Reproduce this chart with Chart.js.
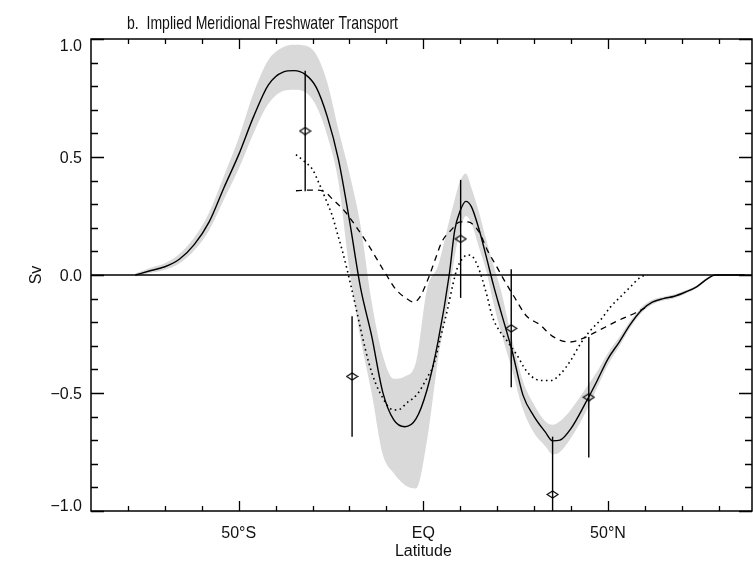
<!DOCTYPE html>
<html>
<head>
<meta charset="utf-8">
<script src="https://cdn.jsdelivr.net/npm/chart.js@4.4.1/dist/chart.umd.min.js"></script>
<style>
  html, body { margin: 0; padding: 0; background: #fff; overflow: hidden; }
  #wrap { width: 753px; height: 563px; }
  canvas { display: block; }
</style>
</head>
<body>
<div id="wrap"><canvas id="fw-chart" width="753" height="563"></canvas></div>
<script>
// ------------------------------------------------------------
//  b. Implied Meridional Freshwater Transport (Sv vs latitude)
// ------------------------------------------------------------

// Main estimate (solid) and its uncertainty band
const LAT_MAIN = [-78, -74, -70, -66, -62, -58, -54, -50, -46, -42, -38, -35, -32, -29, -26, -23, -20, -17, -14, -11,
  -8, -5, -2, 1, 4, 7, 8.5, 10, 11.5, 13, 15, 17, 19, 21, 24, 27, 30, 33, 35, 37, 40, 44, 47, 50, 53, 56, 59, 62,
  65, 68, 71, 74, 77, 79, 83, 87];
const SV_MAIN = [0, 0.018, 0.035, 0.068, 0.13, 0.225, 0.37, 0.51, 0.67, 0.805, 0.86, 0.866, 0.85, 0.795, 0.67, 0.49, 0.23, -0.055, -0.258, -0.496,
  -0.614, -0.643, -0.61, -0.486, -0.28, 0.0, 0.19, 0.273, 0.312, 0.29, 0.198, 0.08, -0.044, -0.155, -0.32, -0.51, -0.60, -0.665, -0.703, -0.70, -0.65, -0.54, -0.45, -0.355, -0.285, -0.21, -0.15, -0.115,
  -0.10, -0.09, -0.072, -0.05, -0.015, 0, 0, 0];
const SV_UPPER = [0.006, 0.03, 0.05, 0.09, 0.16, 0.265, 0.42, 0.58, 0.77, 0.91, 0.965, 0.976, 0.972, 0.934, 0.815, 0.617, 0.43, 0.21, -0.113, -0.34,
  -0.44, -0.43, -0.37, -0.06, 0.04, 0.23, 0.32, 0.40, 0.43, 0.37, 0.27, 0.15, 0.04, -0.065, -0.27, -0.45, -0.55, -0.62, -0.635, -0.62, -0.57, -0.48, -0.41, -0.33, -0.265, -0.195, -0.138, -0.105,
  -0.092, -0.082, -0.065, -0.044, -0.01, 0.003, 0.002, 0.002];
const SV_LOWER = [-0.004, 0.008, 0.022, 0.05, 0.105, 0.19, 0.32, 0.45, 0.60, 0.725, 0.78, 0.785, 0.775, 0.716, 0.59, 0.395, 0.02, -0.27, -0.50, -0.76,
  -0.84, -0.89, -0.905, -0.70, -0.355, -0.08, 0.08, 0.19, 0.25, 0.22, 0.12, 0.02, -0.12, -0.24, -0.40, -0.57, -0.67, -0.725, -0.76, -0.75, -0.69, -0.58, -0.48, -0.38, -0.305, -0.225, -0.162, -0.125,
  -0.108, -0.098, -0.079, -0.056, -0.02, -0.003, -0.002, -0.002];

// Dashed estimate
const LAT_DASH = [-34.5, -30, -27, -24.5, -21, -18, -15, -12.5, -10, -7.5, -4.5, -2.5, -1, 0, 1.7, 3.3, 5, 7.5, 10, 12,
  15, 17.5, 19.7, 22, 24.5, 28, 31.5, 35, 39.5, 43, 47.5, 52.5, 57.5, 60];
const SV_DASH = [0.357, 0.36, 0.355, 0.32, 0.265, 0.20, 0.13, 0.065, 0.0, -0.06, -0.10, -0.115, -0.095, -0.065, 0.0, 0.07, 0.14, 0.19, 0.225, 0.225,
  0.185, 0.10, 0.04, -0.025, -0.09, -0.175, -0.21, -0.26, -0.284, -0.27, -0.235, -0.195, -0.16, -0.14];

// Dotted estimate
const LAT_DOT = [-34.5, -32.3, -30, -28.3, -26.4, -24.6, -23.3, -22, -20.6, -18.3, -16.5, -14.7, -12.9, -11.1, -8.9, -7, -4.3, -1.6, 1.1, 2.9,
  4.7, 6.5, 8, 9.2, 10.6, 11.9, 13.3, 14.6, 16, 17.3, 18.7, 20.5, 22, 23.8, 25.4, 27.2, 29, 31.8, 34.5, 37.2,
  39.9, 42.6, 45.3, 48, 50.7, 53.4, 56.1, 58.4, 60];
const SV_DOT = [0.51, 0.482, 0.447, 0.39, 0.32, 0.248, 0.177, 0.106, 0.02, -0.135, -0.262, -0.376, -0.46, -0.518, -0.567, -0.572, -0.54, -0.504, -0.433, -0.376,
  -0.262, -0.149, -0.04, 0.03, 0.07, 0.085, 0.078, 0.043, -0.02, -0.092, -0.177, -0.234, -0.265, -0.305, -0.34, -0.39, -0.426, -0.447, -0.447, -0.418,
  -0.362, -0.29, -0.234, -0.19, -0.135, -0.092, -0.05, -0.014, 0.0];

// Direct estimates with error bars
const OBS_LAT = [-32, -19.3, 10.1, 23.8, 35, 44.8];
const OBS_SV  = [0.61, -0.43, 0.153, -0.226, -0.93, -0.518];
const OBS_ERR = [0.255, 0.255, 0.25, 0.25, 0.245, 0.255];

// Zero reference line
const ZERO_LAT = [-90, 90];
const ZERO_SV  = [0, 0];

// Axes
const X_MIN = -90, X_MAX = 89, Y_MIN = -1, Y_MAX = 1;
const X_TICKS       = [-50, 0, 50];
const X_TICK_LABELS = ['50°S', 'EQ', '50°N'];
const X_MINOR       = [-80, -70, -60, -40, -30, -20, -10, 10, 20, 30, 40, 60, 70, 80];
const Y_TICKS       = [-1, -0.5, 0, 0.5, 1];
const Y_TICK_LABELS = ['\u22121.0', '\u22120.5', '0.0', '0.5', '1.0'];
const Y_MINOR       = [-0.9, -0.8, -0.7, -0.6, -0.4, -0.3, -0.2, -0.1, 0.1, 0.2, 0.3, 0.4, 0.6, 0.7, 0.8, 0.9];

const TITLE   = 'b.  Implied Meridional Freshwater Transport';
const X_TITLE = 'Latitude';
const Y_TITLE = 'Sv';

const FONT = '"Liberation Sans", Arial, sans-serif';

(function () {
  'use strict';

  const pts = (xs, ys) => xs.map((x, i) => ({ x: x, y: ys[i] }));

  // open diamond marker, wider than tall
  function diamond() {
    const c = document.createElement('canvas');
    c.width = 13; c.height = 9;
    const g = c.getContext('2d');
    g.strokeStyle = '#000';
    g.lineWidth = 1.1;
    g.beginPath();
    g.moveTo(1, 4.5); g.lineTo(6.5, 1); g.lineTo(12, 4.5); g.lineTo(6.5, 8); g.closePath();
    g.stroke();
    return c;
  }

  const line = (data, extra) => Object.assign({
    data: data,
    borderColor: '#000',
    borderWidth: 1.4,
    pointRadius: 0,
    fill: false,
    cubicInterpolationMode: 'monotone',
  }, extra);

  const datasets = [
    // band (upper fills down to lower)
    line(pts(LAT_MAIN, SV_UPPER), { borderWidth: 0, fill: '+1', backgroundColor: '#d9d9d9', order: 20 }),
    line(pts(LAT_MAIN, SV_LOWER), { borderWidth: 0, order: 21 }),
    line(pts(ZERO_LAT, ZERO_SV), { borderWidth: 1.5, cubicInterpolationMode: 'default', order: 6 }),
    line(pts(LAT_DASH, SV_DASH), { borderWidth: 1.3, borderDash: [6, 5], order: 5 }),
    line(pts(LAT_DOT, SV_DOT), { borderWidth: 1.6, borderDash: [1.6, 3.4], order: 4 }),
    line(pts(LAT_MAIN, SV_MAIN), { order: 3 }),
  ];

  OBS_LAT.forEach((lat, i) => {
    datasets.push(line([{ x: lat, y: OBS_SV[i] - OBS_ERR[i] }, { x: lat, y: OBS_SV[i] + OBS_ERR[i] }],
      { borderWidth: 1.4, cubicInterpolationMode: 'default', order: 2 }));
  });

  datasets.push({
    data: pts(OBS_LAT, OBS_SV),
    showLine: false,
    pointStyle: diamond(),
    pointRadius: 5,
    order: 1,
  });

  // frame, inward ticks on all sides, labels and titles
  const framePlugin = {
    id: 'frame',
    afterDraw(chart) {
      const { ctx, chartArea: a, scales: { x, y } } = chart;
      ctx.save();
      ctx.strokeStyle = '#000';
      ctx.lineWidth = 1.5;
      ctx.strokeRect(a.left, a.top, a.right - a.left, a.bottom - a.top);

      ctx.lineWidth = 1.3;
      ctx.beginPath();
      const xt = (v, len) => {
        const px = Math.round(x.getPixelForValue(v)) + 0.5;
        ctx.moveTo(px, a.bottom); ctx.lineTo(px, a.bottom - len);
        ctx.moveTo(px, a.top);    ctx.lineTo(px, a.top + len);
      };
      const yt = (v, len) => {
        const py = Math.round(y.getPixelForValue(v)) + 0.5;
        ctx.moveTo(a.left, py);  ctx.lineTo(a.left + len, py);
        ctx.moveTo(a.right, py); ctx.lineTo(a.right - len, py);
      };
      X_TICKS.forEach(v => xt(v, 10));
      X_MINOR.forEach(v => xt(v, 5));
      Y_TICKS.forEach(v => yt(v, 13));
      Y_MINOR.forEach(v => yt(v, 7));
      ctx.stroke();

      ctx.fillStyle = '#111';
      ctx.font = '16px ' + FONT;
      ctx.textBaseline = 'alphabetic';

      ctx.textAlign = 'center';
      X_TICKS.forEach((v, i) => {
        ctx.fillText(X_TICK_LABELS[i], x.getPixelForValue(v), a.bottom + 27);
      });

      ctx.textAlign = 'right';
      ctx.textBaseline = 'middle';
      Y_TICKS.forEach((v, i) => {
        let py = y.getPixelForValue(v) + 2;
        py = Math.min(Math.max(py, a.top + 8), a.bottom - 4);
        ctx.fillText(Y_TICK_LABELS[i], a.left - 9, py);
      });

      ctx.textBaseline = 'alphabetic';
      ctx.textAlign = 'center';
      ctx.fillText(X_TITLE, x.getPixelForValue(0), a.bottom + 45);

      ctx.save();
      ctx.translate(41, (a.top + a.bottom) / 2);
      ctx.rotate(-Math.PI / 2);
      ctx.fillText(Y_TITLE, 0, 0);
      ctx.restore();

      ctx.textAlign = 'left';
      ctx.font = '19px ' + FONT;
      ctx.fillText(TITLE, 127, 29, 271);
      ctx.restore();
    },
  };

  new Chart(document.getElementById('fw-chart'), {
    type: 'line',
    data: { datasets: datasets },
    options: {
      responsive: false,
      animation: false,
      layout: { autoPadding: false, padding: { left: 91, right: 1, top: 39, bottom: 52 } },
      plugins: { legend: { display: false }, tooltip: { enabled: false } },
      scales: {
        x: { type: 'linear', min: X_MIN, max: X_MAX, display: false },
        y: { type: 'linear', min: Y_MIN, max: Y_MAX, display: false },
      },
    },
    plugins: [framePlugin],
  });
}());
</script>
</body>
</html>
